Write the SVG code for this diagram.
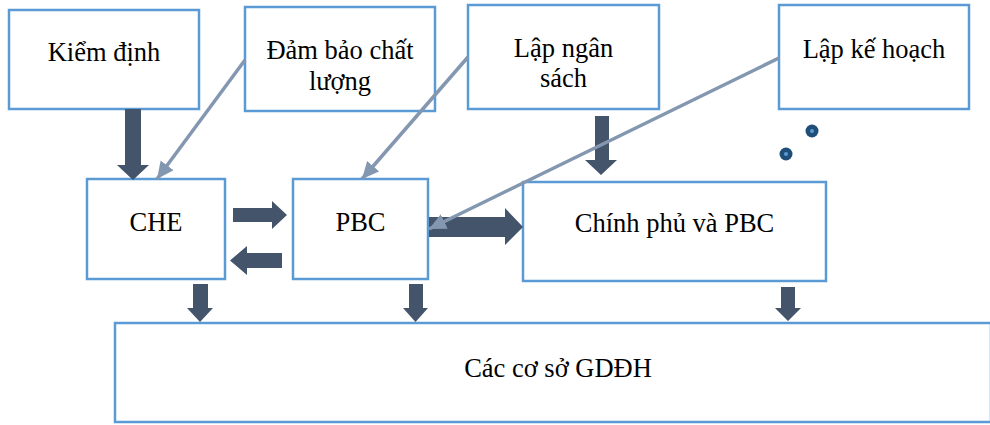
<svg xmlns="http://www.w3.org/2000/svg" width="990" height="425" viewBox="0 0 990 425">
<style>
.box{fill:#fff;stroke:#5B9BD5;stroke-width:2.5}
.t{font-family:'Liberation Serif','Times New Roman',serif;font-size:26.5px;fill:#000;text-anchor:middle}
.blk{fill:#44546A}
.ln{stroke:#8497B0;stroke-width:3.5;fill:none;marker-end:url(#ah)}
</style>
<defs>
<marker id="ah" markerUnits="userSpaceOnUse" markerWidth="20" markerHeight="20" refX="17" refY="8" orient="auto">
<path d="M0,0 L17,8 L0,16 Z" fill="#8497B0"/>
</marker>
</defs>
<rect width="990" height="425" fill="#fff"/>
<g id="bottom"><rect class="box" x="115" y="323" width="876" height="99"/><text class="t" x="558" y="377">Các cơ sở GDĐH</text></g>
<g id="kiemdinh"><rect class="box" x="9" y="10" width="190" height="99"/><text class="t" x="104" y="61">Kiểm định</text></g>
<g id="dambao"><rect class="box" x="245" y="7" width="190" height="104"/><text class="t" x="340" y="59">Đảm bảo chất</text><text class="t" x="340" y="90">lượng</text></g>
<g id="lapngansach"><rect class="box" x="468" y="5" width="191" height="104"/><text class="t" x="563.5" y="57">Lập ngân</text><text class="t" x="563.5" y="87">sách</text></g>
<g id="lapkehoach"><rect class="box" x="779" y="5" width="190" height="104"/><text class="t" x="874" y="58">Lập kế hoạch</text></g>
<g id="che"><rect class="box" x="87" y="179" width="138" height="100"/><text class="t" x="156" y="231">CHE</text></g>
<g id="pbc"><rect class="box" x="293" y="179" width="135" height="100"/><text class="t" x="360.5" y="231">PBC</text></g>
<g id="chinhphu"><rect class="box" x="523" y="182" width="303" height="99"/><text class="t" x="674.5" y="232">Chính phủ và PBC</text></g>
<g id="dots">
<circle cx="812" cy="131" r="6.5" fill="#1F4E79"/><circle cx="812" cy="131" r="2" fill="#5B9BD5"/>
<circle cx="786" cy="154" r="6.5" fill="#1F4E79"/><circle cx="786" cy="154" r="2" fill="#5B9BD5"/>
</g>
<g id="connectors">
<path class="blk" d="M125,109 H141 V165 H149 L133,180 L117,165 H125 Z"/>
<path class="blk" d="M595,116 H609 V160 H617 L601,175 L585,160 H595 Z"/>
<path class="blk" d="M233,208 H272 V201 L287,215 L272,229 V222 H233 Z"/>
<path class="blk" d="M282,253 H247 V246 L230,260.5 L247,275 V268 H282 Z"/>
<path class="blk" d="M429,217 H505 V208 L523,227 L505,245 V237 H429 Z"/>
<path class="blk" d="M193,284 H208 V308 H213 L200,322 L187,308 H193 Z"/>
<path class="blk" d="M409,284 H423 V308 H428 L415.5,322 L403,308 H409 Z"/>
<path class="blk" d="M781,287 H795 V308 H801 L788,321 L775,308 H781 Z"/>
<path class="ln" d="M245,60 L157,179"/>
<path class="ln" d="M468,57 L362,179"/>
<path class="ln" d="M779,58 L429,229"/>
</g>
</svg>
